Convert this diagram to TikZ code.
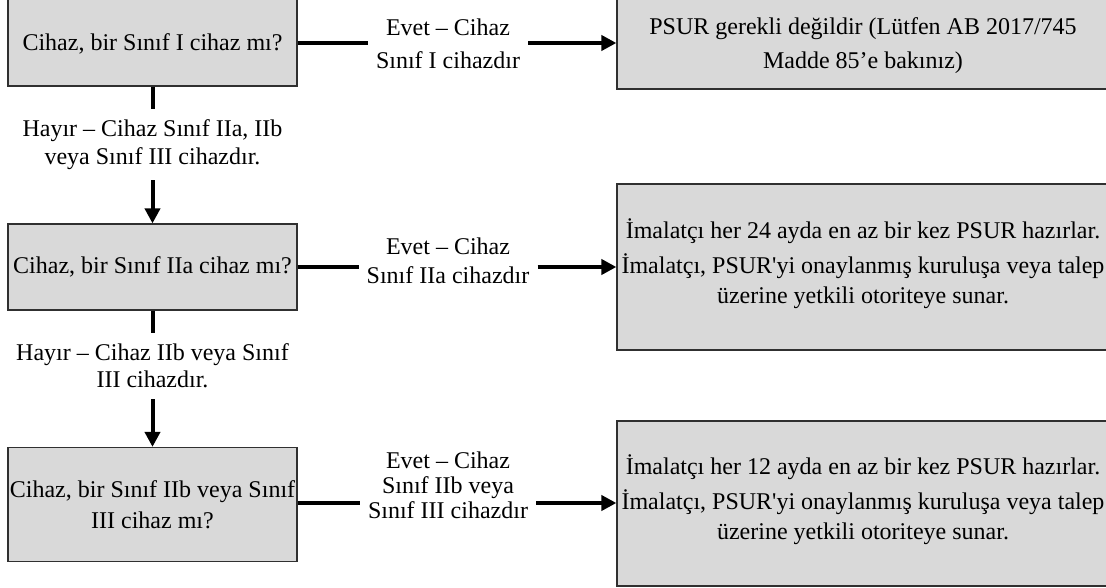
\documentclass[tikz,border=0pt]{standalone}
\usepackage{fontspec}
\setmainfont{Liberation Serif}
\usetikzlibrary{arrows.meta}
\definecolor{boxfill}{HTML}{D9D9D9}
\definecolor{boxline}{HTML}{303030}
\begin{document}
\begin{tikzpicture}[x=1pt,y=-1pt,
  box/.style={draw=boxline, fill=boxfill, line width=1.2pt, rectangle, inner sep=0pt, align=center},
  txt/.style={align=center, inner sep=0pt},
  lbl/.style={txt, inner xsep=8pt},
  conn/.style={line width=4pt, black},
  arr/.style={conn, -{Triangle[length=15pt,width=15pt]}}]
\useasboundingbox (0,0) rectangle (1106,588);
\clip (0,0) rectangle (1106,588);

% left column boxes
\node[box, minimum width=289pt, minimum height=90pt] (A1) at (152.5,41) {};
\node[txt, font=\fontsize{24}{28}\selectfont] (tA1) at (152.5,43.5) {Cihaz, bir Sınıf I cihaz mı?};
\node[box, minimum width=289pt, minimum height=86pt, font=\fontsize{24}{28}\selectfont] (A2) at (152.5,267) {Cihaz, bir Sınıf IIa cihaz mı?};
\node[box, minimum width=289pt, minimum height=114pt, font=\fontsize{24}{31}\selectfont] (A3) at (152.5,504.5) {Cihaz, bir Sınıf IIb veya Sınıf\\III cihaz mı?};

% right column boxes
\node[box, minimum width=492pt, minimum height=93pt] (B1) at (863,42.5) {};
\node[txt, font=\fontsize{24}{34}\selectfont] (tB1) at (863,46) {PSUR gerekli değildir (Lütfen AB 2017/745\\Madde 85’e bakınız)};
\node[box, minimum width=492pt, minimum height=166pt] (B2) at (863,267) {};
\node[txt, font=\fontsize{24}{30}\selectfont] (tB2) at (863,264) {İmalatçı her 24 ayda en az bir kez PSUR hazırlar.\\[5pt]İmalatçı, PSUR\textquotesingle yi onaylanmış kuruluşa veya talep\\üzerine yetkili otoriteye sunar.};
\node[box, minimum width=492pt, minimum height=165pt] (B3) at (863,503.5) {};
\node[txt, font=\fontsize{24}{30}\selectfont] (tB3) at (863,500) {İmalatçı her 12 ayda en az bir kez PSUR hazırlar.\\[5pt]İmalatçı, PSUR\textquotesingle yi onaylanmış kuruluşa veya talep\\üzerine yetkili otoriteye sunar.};

% horizontal labels
\node[lbl, font=\fontsize{24}{33}\selectfont] (L1) at (448,43.5) {Evet – Cihaz\\Sınıf I cihazdır};
\node[lbl, font=\fontsize{24}{29}\selectfont] (L2) at (448,261) {Evet – Cihaz\\Sınıf IIa cihazdır};
\node[lbl, font=\fontsize{24}{25}\selectfont] (L3) at (448,485) {Evet – Cihaz\\Sınıf IIb veya\\Sınıf III cihazdır};

% vertical labels
\node[txt, minimum height=71pt, font=\fontsize{24}{28}\selectfont] (V1) at (152.5,144.5) {Hayır – Cihaz Sınıf IIa, IIb\\veya Sınıf III cihazdır.};
\node[txt, minimum height=66pt, font=\fontsize{24}{27}\selectfont] (V2) at (152.5,366) {Hayır – Cihaz IIb veya Sınıf\\III cihazdır.};

% connectors
\coordinate (y1) at (0,43);
\coordinate (y2) at (0,267);
\coordinate (y3) at (0,503);
\draw[conn] (A1.east |- y1) -- (L1.west |- y1);
\draw[arr] (L1.east |- y1) -- (B1.west |- y1);
\draw[conn] (A2.east |- y2) -- (L2.west |- y2);
\draw[arr] (L2.east |- y2) -- (B2.west |- y2);
\draw[conn] (A3.east |- y3) -- (L3.west |- y3);
\draw[arr] (L3.east |- y3) -- (B3.west |- y3);
\draw[conn] (A1.south) -- (V1.north);
\draw[arr] (V1.south) -- (A2.north);
\draw[conn] (A2.south) -- (V2.north);
\draw[arr] (V2.south) -- (A3.north);
\end{tikzpicture}
\end{document}
